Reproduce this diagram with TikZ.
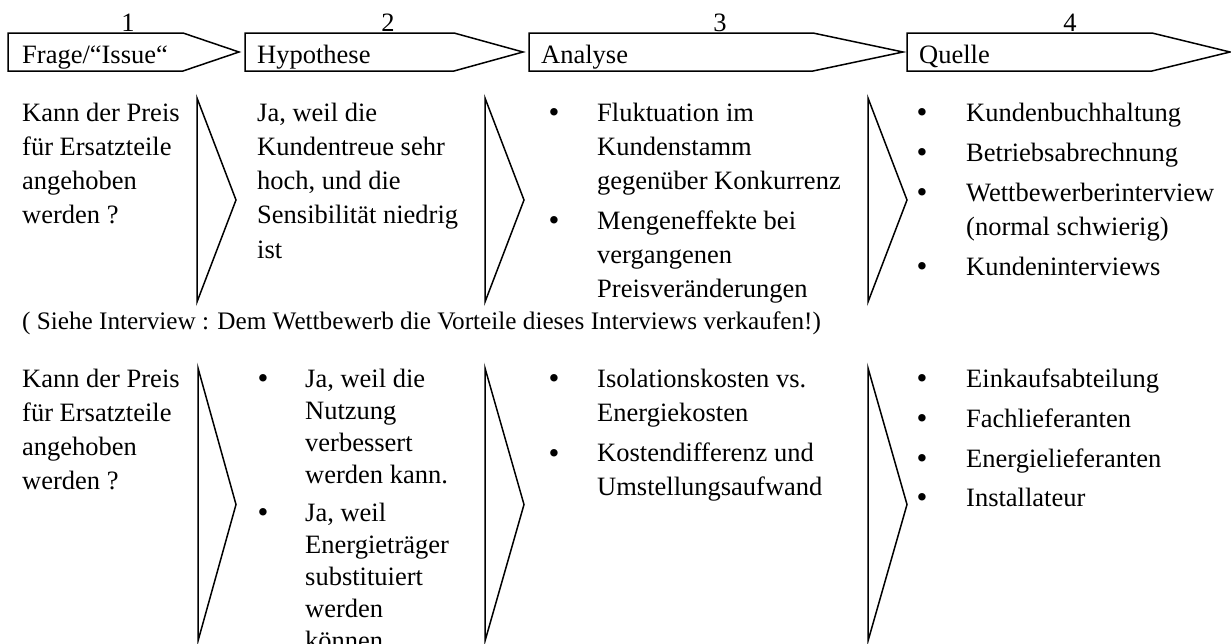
\documentclass[tikz,border=0pt]{standalone}
\usepackage{fontspec}
\setmainfont{Liberation Serif}
% one text block, one node per line: [line spacing] name, x, baseline of first line, lines
\newcommand\textlines[5][34.3]{%
  \foreach \t [count=\i] in {#5} {
    \node[txt] (#2-\i) at (#3, {#4+(\i-1)*#1}) {\t};
  }%
}
\begin{document}
\begin{tikzpicture}[x=1pt, y=-1pt,
  txt/.style={anchor=base west, inner sep=0pt, font=\fontsize{26.5}{34}\selectfont},
  bul/.style={anchor=base, inner sep=0pt, yshift=-1.5pt, font=\fontsize{31}{34}\selectfont},
  num/.style={anchor=base, inner sep=0pt, font=\fontsize{26.5}{34}\selectfont},
  outline/.style={draw=black, line width=1.5pt, line join=miter}]
\useasboundingbox (0,0) rectangle (1231,643);

% ---- header: four numbered step arrows ----
\draw[outline] (8,33) -- (183,33) -- (239,52) -- (183,71) -- (8,71) -- cycle;
\draw[outline] (245,33) -- (454,33) -- (523,52) -- (454,71) -- (245,71) -- cycle;
\draw[outline] (529,33) -- (813,33) -- (903,52) -- (813,71) -- (529,71) -- cycle;
\draw[outline] (907,33) -- (1152,33) -- (1230,52) -- (1152,71) -- (907,71) -- cycle;

\node[num] (n1) at (128,31) {1};
\node[num] (n2) at (388,31) {2};
\node[num] (n3) at (720,31) {3};
\node[num] (n4) at (1070,31) {4};

\node[txt] (h1) at (22,63) {Frage/“Issue“};
\node[txt] (h2) at (257,63) {Hypothese};
\node[txt] (h3) at (541,63) {Analyse};
\node[txt] (h4) at (919,63) {Quelle};

% ---- row 1 ----
\draw[outline] (197,98) -- (236,200) -- (197,302) -- cycle;
\draw[outline] (485,98) -- (524,200) -- (485,302) -- cycle;
\draw[outline] (868,98) -- (907,200) -- (868,302) -- cycle;

\textlines{a1}{22}{121}{Kann der Preis, für Ersatzteile, angehoben, werden ?}
\textlines{a2}{257}{121}{{Ja, weil die}, Kundentreue sehr, {hoch, und die}, Sensibilität niedrig, ist}

\node[bul] (a3b1) at (554,121) {•};
\textlines[34]{a3i1}{597}{121}{Fluktuation im, Kundenstamm, gegenüber Konkurrenz}
\node[bul] (a3b2) at (554,229) {•};
\textlines[34]{a3i2}{597}{229}{Mengeneffekte bei, vergangenen, Preisveränderungen}

\node[bul] (a4b1) at (922,121) {•};
\node[txt] (a4i1) at (966,121) {Kundenbuchhaltung};
\node[bul] (a4b2) at (922,161) {•};
\node[txt] (a4i2) at (966,161) {Betriebsabrechnung};
\node[bul] (a4b3) at (922,201) {•};
\textlines[34]{a4i3}{966}{201}{Wettbewerberinterview, (normal schwierig)}
\node[bul] (a4b4) at (922,275) {•};
\node[txt] (a4i4) at (966,275) {Kundeninterviews};

% ---- remark between the rows ----
\node[txt, font=\fontsize{25.2}{30}\selectfont] (note) at (22,329)
  {( Siehe Interview : Dem Wettbewerb die Vorteile dieses Interviews verkaufen!)};

% ---- row 2 ----
\draw[outline] (198,368) -- (236,504.5) -- (198,641) -- cycle;
\draw[outline] (485,368) -- (524,504.5) -- (485,641) -- cycle;
\draw[outline] (868,368) -- (907,504.5) -- (868,641) -- cycle;

\textlines{b1}{22}{387}{Kann der Preis, für Ersatzteile, angehoben, werden ?}

\node[bul] (b2b1) at (263,387) {•};
\textlines[32]{b2i1}{305}{387}{{Ja, weil die}, Nutzung, verbessert, werden kann.}
\node[bul] (b2b2) at (263,521) {•};
\textlines[32]{b2i2}{305}{521}{{Ja, weil}, Energieträger, substituiert, werden, können}

\node[bul] (b3b1) at (554,387) {•};
\textlines{b3i1}{597}{387}{Isolationskosten vs., Energiekosten}
\node[bul] (b3b2) at (554,461.5) {•};
\textlines{b3i2}{597}{461.5}{Kostendifferenz und, Umstellungsaufwand}

\node[bul] (b4b1) at (922,387) {•};
\node[txt] (b4i1) at (966,387) {Einkaufsabteilung};
\node[bul] (b4b2) at (922,427) {•};
\node[txt] (b4i2) at (966,427) {Fachlieferanten};
\node[bul] (b4b3) at (922,467) {•};
\node[txt] (b4i3) at (966,467) {Energielieferanten};
\node[bul] (b4b4) at (922,506) {•};
\node[txt] (b4i4) at (966,506) {Installateur};
\end{tikzpicture}
\end{document}
